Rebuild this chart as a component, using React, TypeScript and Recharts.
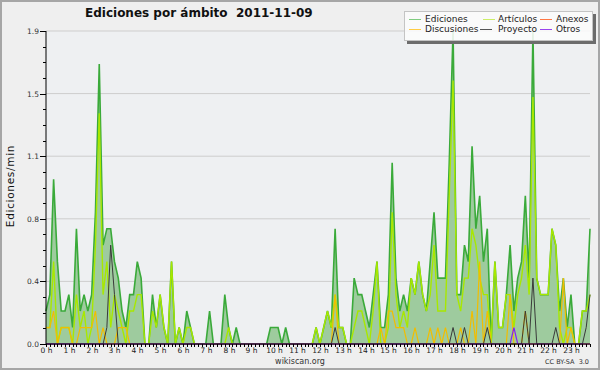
import React from "react";
import {
  Area,
  CartesianGrid,
  ComposedChart,
  Line,
  ReferenceLine,
  XAxis,
  YAxis,
} from "recharts";

// one value every 10 minutes, 144 per day
const ediciones = [
  0.2, 0.3, 1.0, 0.5, 0.2, 0.2, 0.3, 0.1, 0.7, 0.2, 0.3, 0.2,
  0.3, 0.8, 1.7, 0.6, 0.7, 0.7, 0.5, 0.4, 0.2, 0.1, 0.3, 0.3,
  0.5, 0.4, 0, 0, 0.3, 0.1, 0.3, 0.1, 0, 0.5, 0, 0.1,
  0, 0.2, 0.1, 0, 0, 0, 0, 0.2, 0, 0, 0, 0.3,
  0.1, 0, 0.1, 0, 0, 0, 0, 0, 0, 0, 0, 0.1,
  0.1, 0.1, 0, 0.1, 0, 0, 0, 0, 0, 0, 0, 0.1,
  0, 0.1, 0.2, 0.1, 0.7, 0.1, 0.1, 0, 0, 0.4, 0.3, 0.3,
  0.2, 0.1, 0.3, 0.5, 0.1, 0.1, 0.3, 1.1, 0.4, 0.2, 0.3, 0.2,
  0.4, 0.3, 0.5, 0.3, 0.2, 0.5, 0.8, 0.4, 0.4, 0.4, 1.1, 1.9,
  0.3, 0.3, 0.6, 0.5, 1.2, 0.7, 0.9, 0.5, 0.7, 0, 0.5, 0.1,
  0.1, 0.3, 0.6, 0.2, 0.4, 0.5, 0.9, 0.4, 1.9, 0.4, 0.3, 0.3,
  0.3, 0.7, 0.6, 0.2, 0.4, 0.1, 0.3, 0, 0, 0.2, 0.2, 0.7,
];

const articulos = [
  0.1, 0.1, 0.5, 0, 0.1, 0.1, 0.1, 0, 0.3, 0.1, 0.2, 0,
  0.1, 0.6, 1.4, 0.3, 0.5, 0.1, 0.3, 0.2, 0.1, 0, 0.2, 0.2,
  0.3, 0.3, 0, 0, 0.2, 0.1, 0.3, 0.1, 0, 0.5, 0, 0.1,
  0, 0.1, 0.1, 0, 0, 0, 0, 0, 0, 0, 0, 0,
  0.1, 0, 0, 0, 0, 0, 0, 0, 0, 0, 0, 0,
  0, 0, 0, 0, 0, 0, 0, 0, 0, 0, 0, 0.1,
  0, 0.1, 0.2, 0.1, 0.3, 0.1, 0.1, 0, 0, 0.1, 0.2, 0.2,
  0.1, 0, 0.2, 0.5, 0, 0, 0.1, 0.8, 0.3, 0.1, 0.2, 0.1,
  0.4, 0.3, 0.5, 0.3, 0.2, 0.3, 0.6, 0.2, 0.2, 0.2, 0.9, 1.6,
  0.3, 0.2, 0.4, 0.4, 0.7, 0.6, 0.4, 0.3, 0.3, 0, 0.5, 0.1,
  0.1, 0.3, 0.3, 0.1, 0.3, 0.4, 0.6, 0.3, 1.5, 0.4, 0.3, 0.3,
  0.3, 0.7, 0.6, 0.1, 0, 0.1, 0.1, 0, 0, 0.2, 0.2, 0.3,
];

const anexos = [
  0, 0, 0, 0, 0, 0, 0, 0, 0, 0, 0, 0,
  0, 0, 0, 0, 0, 0, 0, 0, 0, 0, 0, 0,
  0, 0, 0, 0, 0, 0, 0, 0, 0, 0, 0, 0,
  0, 0, 0, 0, 0, 0, 0, 0, 0, 0, 0, 0,
  0, 0, 0, 0, 0, 0, 0, 0, 0, 0, 0, 0,
  0, 0, 0, 0, 0, 0, 0, 0, 0, 0, 0, 0,
  0, 0, 0, 0, 0, 0, 0, 0, 0, 0, 0, 0,
  0, 0, 0, 0, 0, 0, 0, 0, 0, 0, 0, 0,
  0, 0, 0, 0, 0, 0, 0, 0, 0, 0, 0, 0,
  0, 0, 0, 0, 0, 0, 0, 0, 0, 0, 0, 0,
  0, 0, 0, 0, 0, 0, 0, 0, 0, 0, 0, 0,
  0, 0, 0, 0, 0, 0, 0, 0, 0, 0, 0, 0,
];

const discusiones = [
  0.1, 0.1, 0.2, 0, 0.1, 0.1, 0.1, 0, 0, 0.1, 0.1, 0.1,
  0.1, 0.2, 0, 0.1, 0, 0, 0, 0.1, 0.1, 0.1, 0, 0,
  0, 0, 0, 0, 0, 0, 0, 0, 0, 0, 0, 0,
  0, 0, 0, 0, 0, 0, 0, 0, 0, 0, 0, 0,
  0, 0, 0, 0, 0, 0, 0, 0, 0, 0, 0, 0,
  0, 0, 0, 0, 0, 0, 0, 0, 0, 0, 0, 0,
  0, 0, 0, 0, 0.3, 0, 0, 0, 0, 0, 0, 0,
  0, 0, 0, 0, 0.1, 0, 0.2, 0.2, 0.1, 0.1, 0.1, 0,
  0, 0.1, 0, 0, 0, 0.1, 0, 0.1, 0, 0.1, 0, 0,
  0, 0.1, 0, 0, 0.2, 0, 0.5, 0, 0.2, 0, 0, 0,
  0, 0, 0.3, 0, 0, 0, 0.2, 0, 0, 0, 0, 0,
  0, 0, 0, 0, 0.4, 0, 0.1, 0, 0, 0, 0, 0,
];

const proyecto = [
  0, 0, 0, 0, 0, 0, 0, 0, 0, 0, 0, 0,
  0, 0, 0, 0, 0.1, 0.6, 0.3, 0, 0, 0, 0, 0,
  0, 0, 0, 0, 0, 0, 0, 0, 0, 0, 0, 0,
  0, 0, 0, 0, 0, 0, 0, 0, 0, 0, 0, 0,
  0, 0, 0, 0, 0, 0, 0, 0, 0, 0, 0, 0,
  0, 0, 0, 0, 0, 0, 0, 0, 0, 0, 0, 0,
  0, 0, 0, 0, 0.1, 0, 0, 0, 0, 0, 0, 0,
  0, 0, 0, 0, 0, 0, 0, 0, 0, 0, 0, 0,
  0, 0, 0, 0, 0, 0, 0, 0, 0, 0, 0, 0.1,
  0, 0, 0.1, 0, 0, 0, 0, 0, 0.1, 0, 0, 0,
  0, 0, 0, 0, 0, 0, 0.2, 0, 0.4, 0, 0, 0,
  0, 0, 0.1, 0, 0, 0, 0, 0, 0, 0, 0.1, 0.3,
];

const otros = [
  0, 0, 0, 0, 0, 0, 0, 0, 0, 0, 0, 0,
  0, 0, 0, 0, 0, 0, 0, 0, 0, 0, 0, 0,
  0, 0, 0, 0, 0, 0, 0, 0, 0, 0, 0, 0,
  0, 0, 0, 0, 0, 0, 0, 0, 0, 0, 0, 0,
  0, 0, 0, 0, 0, 0, 0, 0, 0, 0, 0, 0,
  0, 0, 0, 0, 0, 0, 0, 0, 0, 0, 0, 0,
  0, 0, 0, 0, 0, 0, 0, 0, 0, 0, 0, 0,
  0, 0, 0, 0, 0, 0, 0, 0, 0, 0, 0, 0,
  0, 0, 0, 0, 0, 0, 0, 0, 0, 0, 0, 0,
  0, 0, 0, 0, 0, 0, 0, 0, 0, 0, 0, 0,
  0, 0, 0, 0.1, 0, 0, 0, 0, 0, 0, 0, 0,
  0, 0, 0, 0, 0, 0, 0, 0, 0, 0, 0, 0,
];

const hourLabels = [
  "0 h", "1 h", "2 h", "3 h", "4 h", "5 h", "6 h", "7 h", "8 h", "9 h", "10 h", "11 h",
  "12 h", "13 h", "14 h", "15 h", "16 h", "17 h", "18 h", "19 h", "20 h", "21 h", "22 h", "23 h",
];

const yMajor = [0, 0.38, 0.76, 1.14, 1.52, 1.9];
const yLabels = ["0.0", "0.4", "0.8", "1.1", "1.5", "1.9"];
const yTicks = [
  0, 0.095, 0.19, 0.285, 0.38, 0.475, 0.57, 0.665, 0.76, 0.855, 0.95,
  1.045, 1.14, 1.235, 1.33, 1.425, 1.52, 1.615, 1.71, 1.805, 1.9,
];

const data = ediciones.map((v, i) => ({
  t: i,
  ediciones: v,
  articulos: articulos[i],
  anexos: anexos[i],
  discusiones: discusiones[i],
  proyecto: proyecto[i],
  otros: otros[i],
}));
const xTicks = data.map((d) => d.t);

const FONT = "'DejaVu Sans', Verdana, sans-serif";
const PLOT_LEFT = 46;
const PLOT_BOTTOM = 344;

const XTick = (props: any) => {
  const v = props.payload.value as number;
  const x = Math.round(props.x) + 0.5;
  const major = v % 6 === 0;
  return (
    <g>
      <line x1={x} y1={PLOT_BOTTOM} x2={x} y2={PLOT_BOTTOM + 3} stroke="#000" />
      {major && (
        <text x={x} y={353} textAnchor="middle" fontSize={7.5} fill="#222" fontFamily={FONT}>
          {hourLabels[v / 6]}
        </text>
      )}
    </g>
  );
};

const YTick = (props: any) => {
  const v = props.payload.value as number;
  const y = Math.round(props.y) + 0.5;
  const idx = yMajor.findIndex((m) => Math.abs(m - v) < 1e-6);
  const major = idx >= 0;
  return (
    <g>
      <line x1={PLOT_LEFT - (major ? 6 : 3)} y1={y} x2={PLOT_LEFT} y2={y} stroke="#000" />
      {major && (
        <text x={39} y={y + 2.5} textAnchor="end" fontSize={7.5} fill="#333" fontFamily={FONT}>
          {yLabels[idx]}
        </text>
      )}
    </g>
  );
};

const legendItems = [
  { name: "Ediciones", color: "#80cc80", lx: 4, tx: 20, row: 0 },
  { name: "Artículos", color: "#ccee66", lx: 78, tx: 93, row: 0 },
  { name: "Anexos", color: "#ff7744", lx: 135, tx: 151, row: 0 },
  { name: "Discusiones", color: "#ffcc44", lx: 4, tx: 20, row: 1 },
  { name: "Proyecto", color: "#555555", lx: 75, tx: 93, row: 1 },
  { name: "Otros", color: "#9944ee", lx: 135, tx: 151, row: 1 },
];

const ChartLegend = () => (
  <div
    style={{
      position: "absolute",
      left: 404,
      top: 11,
      width: 187,
      height: 28,
      background: "rgba(252,252,252,0.88)",
      border: "1px solid #c4c4c4",
      boxShadow: "3px 3px 0 #6c6c6c",
      fontFamily: FONT,
      fontSize: 9,
      color: "#222",
    }}
  >
    {legendItems.map((it) => (
      <React.Fragment key={it.name}>
        <div
          style={{
            position: "absolute",
            left: it.lx,
            top: 7 + it.row * 10,
            width: 12,
            height: 1,
            background: it.color,
          }}
        />
        <span
          style={{
            position: "absolute",
            left: it.tx,
            top: 1.5 + it.row * 10,
            lineHeight: "11px",
            whiteSpace: "nowrap",
          }}
        >
          {it.name}
        </span>
      </React.Fragment>
    ))}
  </div>
);

export default function App() {
  return (
    <div
      style={{
        position: "relative",
        width: 600,
        height: 370,
        background: "#efefef",
        overflow: "hidden",
      }}
    >
      <style>{"body{margin:0}"}</style>
      <ComposedChart
        width={600}
        height={370}
        data={data}
        margin={{ top: 31, right: 10, bottom: 0, left: 0 }}
      >
        <CartesianGrid
          horizontal
          vertical={false}
          horizontalValues={yMajor}
          stroke="#cdcdcd"
          fill="#eef0f2"
        />
        <XAxis
          dataKey="t"
          type="number"
          domain={[0, 143]}
          ticks={xTicks}
          interval={0}
          height={26}
          axisLine={false}
          tickLine={false}
          tick={XTick}
        />
        <YAxis
          type="number"
          domain={[0, 1.9]}
          ticks={yTicks}
          interval={0}
          width={46}
          axisLine={{ stroke: "#000" }}
          tickLine={false}
          tick={YTick}
        />
        <Area
          type="linear"
          dataKey="ediciones"
          stroke="#3aaa3a"
          strokeWidth={1.6}
          fill="#9ecb9e"
          fillOpacity={1}
          dot={false}
          activeDot={false}
          isAnimationActive={false}
        />
        <Line type="linear" dataKey="articulos" stroke="#a8e800" strokeWidth={1.4} dot={false} activeDot={false} isAnimationActive={false} />
        <Line type="linear" dataKey="anexos" stroke="#ff7744" strokeWidth={1.2} dot={false} activeDot={false} isAnimationActive={false} />
        <Line type="linear" dataKey="discusiones" stroke="#f2bd00" strokeWidth={1.2} dot={false} activeDot={false} isAnimationActive={false} />
        <Line type="linear" dataKey="proyecto" stroke="#3a3a3a" strokeWidth={1} dot={false} activeDot={false} isAnimationActive={false} />
        <Line type="linear" dataKey="otros" stroke="#8822ee" strokeWidth={1.2} dot={false} activeDot={false} isAnimationActive={false} />
        <ReferenceLine y={0} stroke="#000" strokeWidth={1} />
      </ComposedChart>

      <div
        style={{
          position: "absolute",
          left: 85,
          top: 6,
          fontFamily: FONT,
          fontWeight: "bold",
          fontSize: 12,
          color: "#111",
          whiteSpace: "pre",
          lineHeight: "15px",
        }}
      >
        {"Ediciones por ámbito  2011-11-09"}
      </div>

      <div
        style={{
          position: "absolute",
          left: 10,
          top: 186,
          transform: "translate(-50%, -50%) rotate(-90deg)",
          fontFamily: FONT,
          fontSize: 10.5,
          letterSpacing: 0.7,
          color: "#111",
          whiteSpace: "nowrap",
        }}
      >
        Ediciones/min
      </div>

      <ChartLegend />

      <div
        style={{
          position: "absolute",
          left: 300,
          top: 357,
          transform: "translateX(-50%)",
          fontFamily: FONT,
          fontSize: 8,
          color: "#333",
          lineHeight: "10px",
        }}
      >
        wikiscan.org
      </div>
      <div
        style={{
          position: "absolute",
          right: 11,
          top: 358,
          fontFamily: FONT,
          fontSize: 6.5,
          color: "#333",
          lineHeight: "9px",
          whiteSpace: "pre",
        }}
      >
        {"CC BY-SA  3.0"}
      </div>

      <div
        style={{
          position: "absolute",
          inset: 0,
          border: "2px solid #a6a6a6",
          pointerEvents: "none",
        }}
      />
    </div>
  );
}
